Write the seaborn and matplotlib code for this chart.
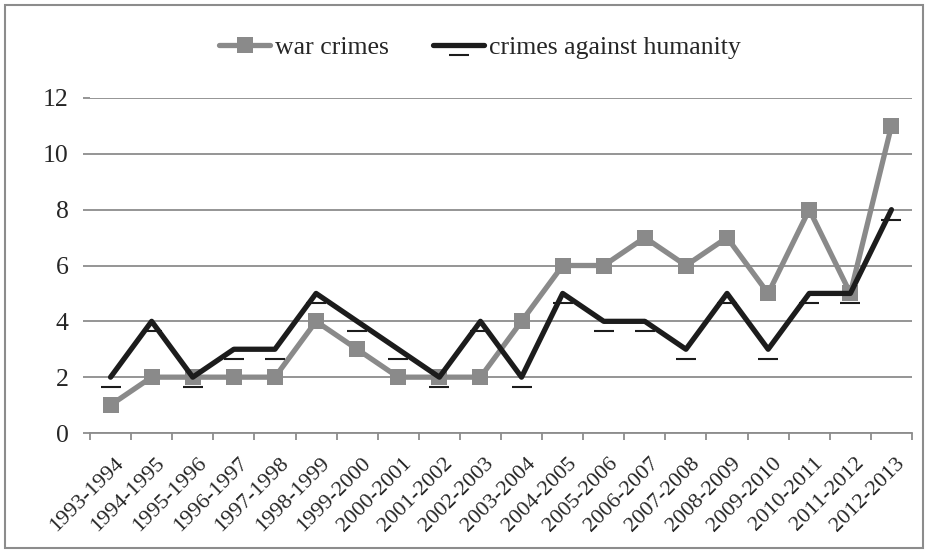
import numpy as np
import pandas as pd
import seaborn as sns
import matplotlib.pyplot as plt
from matplotlib.lines import Line2D
from matplotlib.patches import Rectangle
from matplotlib.transforms import ScaledTranslation, blended_transform_factory

# Data
periods = ['1993-1994', '1994-1995', '1995-1996', '1996-1997', '1997-1998',
           '1998-1999', '1999-2000', '2000-2001', '2001-2002', '2002-2003',
           '2003-2004', '2004-2005', '2005-2006', '2006-2007', '2007-2008',
           '2008-2009', '2009-2010', '2010-2011', '2011-2012', '2012-2013']
war_crimes = [1, 2, 2, 2, 2, 4, 3, 2, 2, 2, 4, 6, 6, 7, 6, 7, 5, 8, 5, 11]
crimes_humanity = [2, 4, 2, 3, 3, 5, 4, 3, 2, 4, 2, 5, 4, 4, 3, 5, 3, 5, 5, 8]
y_ticks = [0, 2, 4, 6, 8, 10, 12]

gray = '#8a8a8a'
black = '#1c1c1c'
axis_gray = '#8c8c8c'
FONT = 'Liberation Serif'

sns.set_style('white')
plt.rcParams['font.family'] = [FONT, 'DejaVu Serif']

# Excel "dash" marker: a short bar that sits a little below the point
dash = [(-1, -1), (1, -1)]

df = pd.DataFrame({'period': periods, 'war crimes': war_crimes,
                   'crimes against humanity': crimes_humanity})
df['pos'] = np.arange(len(periods))

fig = plt.figure(figsize=(9.29, 5.52), dpi=100)
ax = fig.add_axes([90 / 929, 1 - 433 / 552, (912 - 90) / 929, (433 - 98) / 552])

ax.set_axisbelow(True)
ax.yaxis.grid(True, color=axis_gray, linewidth=1.3)

sns.lineplot(data=df, x='pos', y='war crimes', ax=ax,
             color=gray, linewidth=3.8, marker='s', markersize=11.5,
             markeredgewidth=0, sort=False, zorder=3)
sns.lineplot(data=df, x='pos', y='crimes against humanity', ax=ax,
             color=black, linewidth=3.8, marker=dash, markersize=14.5,
             markeredgewidth=1.5, markeredgecolor=black, sort=False, zorder=4)

ax.set_xlim(-0.5, len(periods) - 0.5)
ax.set_ylim(0, 12)
ax.set_yticks(y_ticks)
ax.set_xticks(df['pos'])
ax.set_xticks(np.arange(len(periods) + 1) - 0.5, minor=True)
ax.tick_params(axis='x', which='major', length=0, labelbottom=False)
ax.tick_params(axis='x', which='minor', length=5, width=1.3, color=axis_gray,
               direction='out', bottom=True)
ax.tick_params(axis='y', length=5, width=1.3, color=axis_gray, direction='out',
               left=True, labelleft=False)
ax.set_xlabel('')
ax.set_ylabel('')

# tick labels in the serif face, placed through the axes' own transforms
x_trans = blended_transform_factory(ax.transData, ax.transAxes) + \
    ScaledTranslation(3 / 72, -15 / 72, fig.dpi_scale_trans)
for p, lab in zip(df['pos'], periods):
    fig.text(p, 0, lab, transform=x_trans, rotation=45, ha='right', va='top',
             rotation_mode='anchor', fontsize=16, family=FONT)
y_trans = blended_transform_factory(ax.transAxes, ax.transData) + \
    ScaledTranslation(-15.5 / 72, 0, fig.dpi_scale_trans)
for v in y_ticks:
    fig.text(0, v, str(v), transform=y_trans, ha='right', va='center_baseline',
             fontsize=18.5, family=FONT)

for s in ['top', 'right', 'left']:
    ax.spines[s].set_visible(False)
ax.spines['bottom'].set_color(axis_gray)
ax.spines['bottom'].set_linewidth(1.3)

handles = [Line2D([], [], color=gray, linewidth=3.8, marker='s', markersize=11.5,
                  markeredgewidth=0),
           Line2D([], [], color=black, linewidth=3.8, marker=dash, markersize=14.5,
                  markeredgewidth=1.5, markeredgecolor=black)]
fig.legend(handles, ['war crimes', 'crimes against humanity'], loc='center',
           bbox_to_anchor=(480 / 929, 1 - 48 / 552), ncol=2, frameon=False,
           prop={'family': FONT, 'size': 18.5}, handlelength=2.0,
           handletextpad=0.2, columnspacing=1.7)

# outer chart border
fig.patches.append(Rectangle((5 / 929, 4 / 552), 918 / 929, 543 / 552,
                             transform=fig.transFigure, fill=False,
                             edgecolor='#8c8c8c', linewidth=1.5))

fig.savefig('out.png', dpi=100)
